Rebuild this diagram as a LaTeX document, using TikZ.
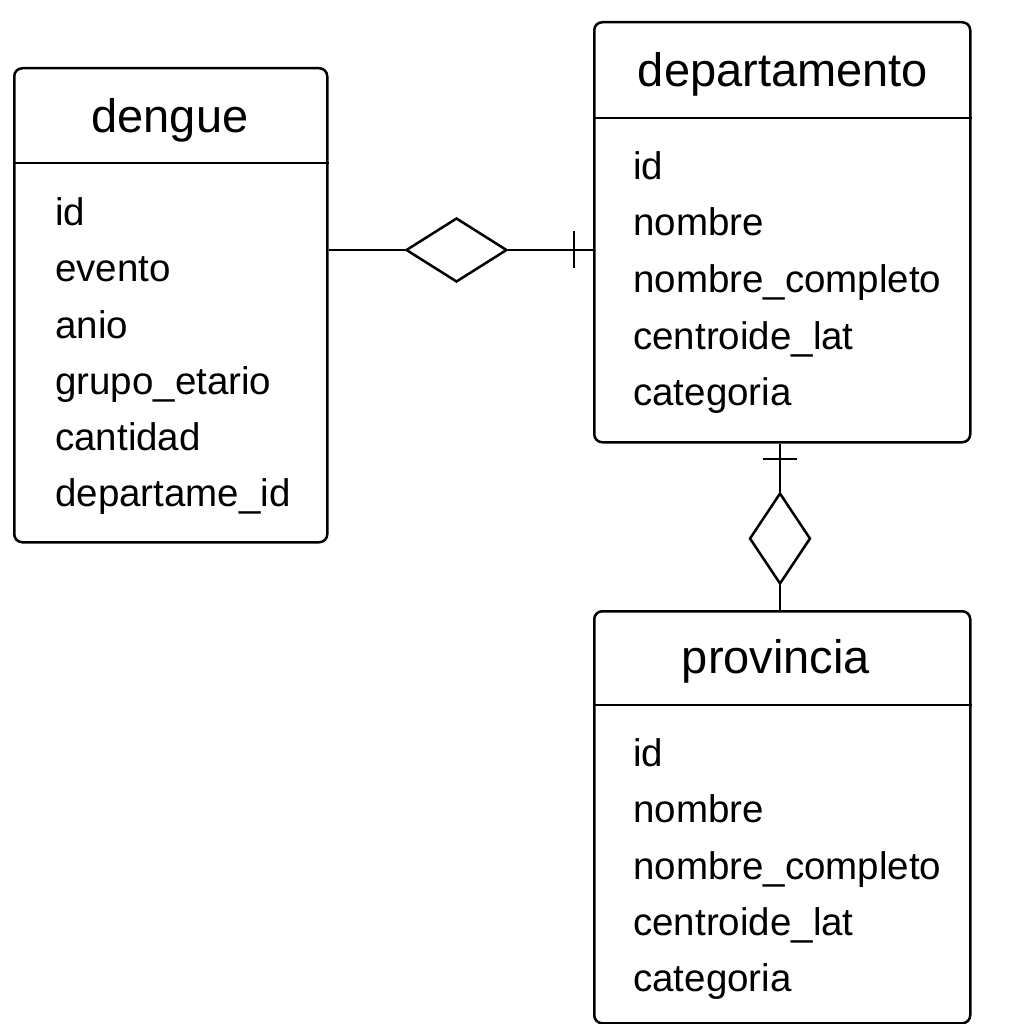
\documentclass[tikz,border=0pt]{standalone}
\usepackage{fontspec}
\setmainfont{Liberation Sans}
\usetikzlibrary{shapes.geometric}
\begin{document}
\begin{tikzpicture}[x=1pt,y=-1pt,line width=2.5pt,
  entity/.style={draw,rounded corners=8pt,inner sep=0pt,anchor=north west},
  title/.style={font=\fontsize{47}{50}\selectfont,inner sep=0pt,anchor=center},
  attr/.style={font=\fontsize{38.5}{42}\selectfont,inner sep=0pt,anchor=west},
  rel/.style={draw,diamond,inner sep=0pt,line width=2.5pt},
  tick/.style={line width=2.5pt}]
\useasboundingbox (0,0) rectangle (1024,1024);
% entities
\node[entity,minimum width=313pt,minimum height=474pt] (dengue) at (13,67) {};
\node[entity,minimum width=376pt,minimum height=420pt] (dep) at (593,21) {};
\node[entity,minimum width=376pt,minimum height=412pt] (prov) at (593,610) {};
% header separators
\coordinate (h1) at (0,163); \draw (dengue.west |- h1) -- (dengue.east |- h1);
\coordinate (h2) at (0,118); \draw (dep.west |- h2) -- (dep.east |- h2);
\coordinate (h3) at (0,705); \draw (prov.west |- h3) -- (prov.east |- h3);
% titles
\node[title] (tdengue) at (170,120) {\vphantom{dp}dengue};
\node[title] (tdep) at (783,74) {\vphantom{dp}departamento};
\node[title] (tprov) at (776,661) {\vphantom{dp}provincia};
% attributes
\node[attr] (a1) at (54,216) {\vphantom{dp}id};
\node[attr] (a2) at (54,272) {\vphantom{dp}evento};
\node[attr] (a3) at (54,329) {\vphantom{dp}anio};
\node[attr] (a4) at (54,385) {\vphantom{dp}grupo\_etario};
\node[attr] (a5) at (54,441) {\vphantom{dp}cantidad};
\node[attr] (a6) at (54,497) {\vphantom{dp}departame\_id};
\node[attr] (b1) at (632,170) {\vphantom{dp}id};
\node[attr] (b2) at (632,226) {\vphantom{dp}nombre};
\node[attr] (b3) at (632,283) {\vphantom{dp}nombre\_completo};
\node[attr] (b4) at (632,340) {\vphantom{dp}centroide\_lat};
\node[attr] (b5) at (632,396) {\vphantom{dp}categoria};
\node[attr] (c1) at (632,757) {\vphantom{dp}id};
\node[attr] (c2) at (632,813) {\vphantom{dp}nombre};
\node[attr] (c3) at (632,870) {\vphantom{dp}nombre\_completo};
\node[attr] (c4) at (632,926) {\vphantom{dp}centroide\_lat};
\node[attr] (c5) at (632,982) {\vphantom{dp}categoria};
% relationship dengue - departamento
\node[rel,minimum width=101pt,minimum height=64pt] (r1) at (456.5,250) {};
\draw (r1 -| dengue.east) -- (r1.west);
\draw (r1.east) -- (r1 -| dep.west);
\coordinate (t1) at (574,250);
\draw[tick] ([yshift=-18pt]t1) -- ([yshift=19pt]t1);
% relationship departamento - provincia
\node[rel,minimum width=61pt,minimum height=91pt] (r2) at (780,538.5) {};
\draw (r2.north |- dep.south) -- (r2.north);
\draw (r2.south) -- (r2.south |- prov.north);
\coordinate (t2) at (780,459);
\draw[tick] ([xshift=-17pt]t2) -- ([xshift=17pt]t2);
\end{tikzpicture}
\end{document}
